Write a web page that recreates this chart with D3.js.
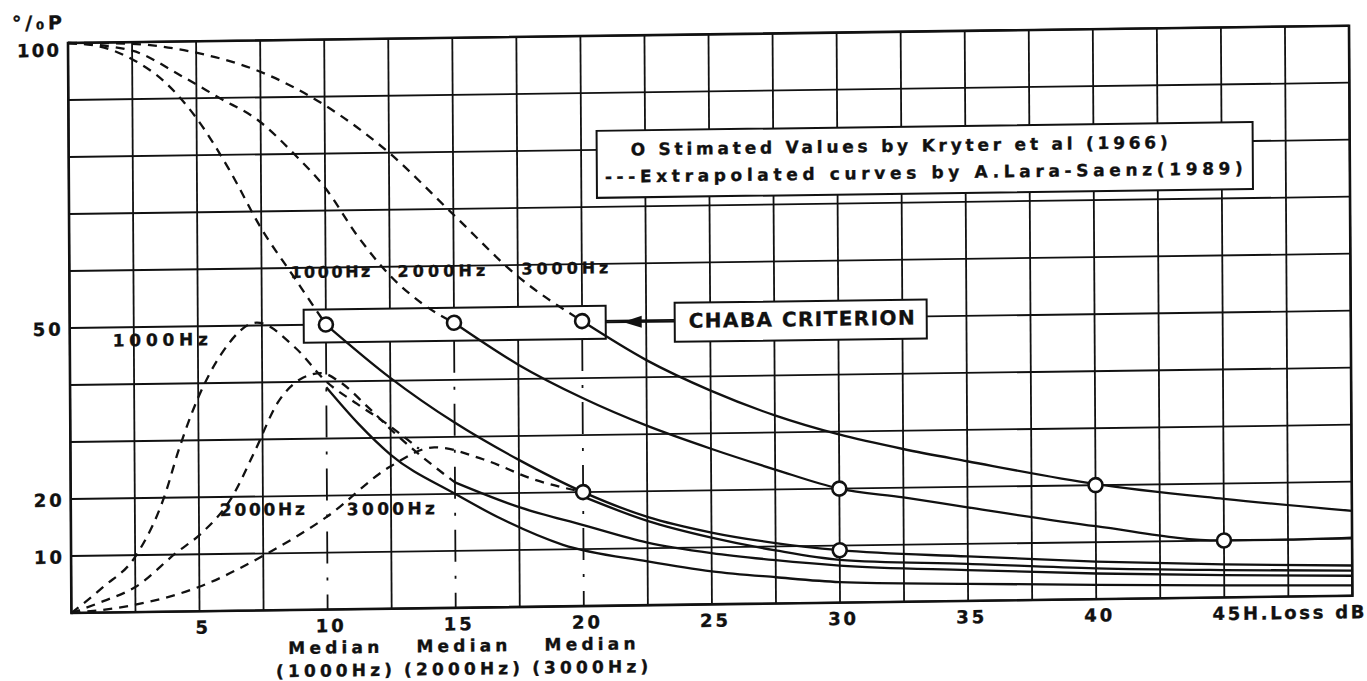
<!DOCTYPE html>
<html>
<head>
<meta charset="utf-8">
<script src="https://cdn.jsdelivr.net/npm/d3@7/dist/d3.min.js"></script>
<style>
  body { margin: 0; background: #fff; }
  text { font-family: "DejaVu Sans", "Liberation Sans", sans-serif; font-weight: bold; fill: #111; stroke: #111; stroke-width: 0.35; }
</style>
</head>
<body>
<svg id="chart" width="1367" height="681"></svg>
<script>
// ---- axis ticks and labels ----
const xGridValues = [0, 2.5, 5, 7.5, 10, 12.5, 15, 17.5, 20, 22.5, 25, 27.5, 30, 32.5, 35, 37.5, 40, 42.5, 45, 47.5, 50];
const yGridValues = [0, 10, 20, 30, 40, 50, 60, 70, 80, 90, 100];
const xTickValues = [5, 10, 15, 20, 25, 30, 35, 40];
const lastTickValue = 45;
const lastTickLabel = "45H.Loss dB";
const yTickValues = [100, 50, 20, 10];
const medianAt = [10, 15, 20];
const medianFreq = ["(1000Hz)", "(2000Hz)", "(3000Hz)"];

// ---- Kryter et al (1966) estimated values ----
const kryterPoints = [[10, 50], [15, 50], [20, 50], [20, 20], [30, 20], [30, 9.2], [40, 20], [45, 10]];

// solid curves through the estimated values
const kryter1000 = [[10, 50], [12.5, 40.5], [15, 32.5], [17.5, 25.8], [20, 20], [22.5, 15.5], [25, 12.6], [27.5, 10.6], [30, 9.2], [35, 7.8], [40, 6.6], [45, 5.8], [50, 5.3]];
const kryter2000 = [[15, 50], [17.5, 42.5], [20, 36.5], [22.5, 31.5], [25, 27.3], [27.5, 23.5], [30, 20], [32.5, 18.3], [35, 16.4], [40, 12.8], [45, 10], [47.5, 10], [50, 10.2]];
const kryter3000 = [[20, 50], [22.5, 43], [25, 37.5], [27.5, 33], [30, 29.5], [32.5, 26.8], [35, 24.5], [40, 20.2], [45, 17.3], [50, 14.9]];

// lower solid tails
const tail1000 = [[10, 39], [11.25, 32.5], [12.5, 27], [15, 20], [16.8, 15.5], [19.2, 10.8], [22.5, 7.7], [25, 5.8], [27.5, 4.6], [30, 3.6], [35, 3.0], [40, 2.5], [45, 2.1], [50, 1.8]];
const tail2000 = [[15, 22], [17.5, 17.5], [20, 14.2], [22.5, 11], [25, 9], [27.5, 7.6], [30, 6.5], [35, 5.4], [40, 4.5], [45, 3.9], [50, 3.5]];
const tail3000 = [[20, 19.2], [22.5, 14.8], [25, 11.7], [27.5, 9.3], [30, 7.5], [35, 6.5], [40, 5.4], [45, 4.8], [50, 4.4]];

// ---- Lara-Saenz (1989) extrapolated curves ----
const extrap1000 = [[0, 100], [1.25, 99.3], [2.5, 97], [3.75, 93], [5, 86.5], [6.25, 77.5], [7.5, 67], [8.75, 58.5], [10, 50]];
const extrap2000 = [[0, 100], [2.5, 98.5], [4.4, 94], [5.9, 90], [7.4, 86], [8.8, 80], [10, 74], [11.25, 65.5], [12.5, 58.5], [13.75, 53.5], [15, 50]];
const extrap3000 = [[0, 100], [2.5, 99.7], [5, 98], [7.5, 94.5], [10, 88.5], [12.5, 80], [15, 69], [17.5, 58], [20, 50]];

const peak1000 = [[0, 0], [1.25, 4.5], [2.5, 9.7], [3.7, 20.8], [4.2, 28], [5, 37.5], [5.9, 45], [7.3, 50.5], [8.8, 46], [10, 40], [11.2, 36], [12.3, 32.6], [13.6, 28]];
const peak2000 = [[0, 0], [1.25, 2], [2.5, 4.4], [4.1, 10.3], [5.1, 13.7], [6.3, 20], [7.2, 28], [8.1, 36.4], [9, 40.5], [9.8, 41.5], [10.5, 40], [11.6, 35.5], [12.8, 30.2], [15, 22]];
const peak3000 = [[0, 0], [2.5, 1.3], [5, 4.3], [7.5, 9.6], [10, 16.3], [12.5, 25], [14.2, 28.2], [16.1, 26], [18.1, 22.3], [20, 20]];

// ---- drawing ----
const svg = d3.select("#chart");
const INK = "#111";

const x = d3.scaleLinear().domain([0, 50]).range([68, 1349]);
const y = d3.scaleLinear().domain([0, 100]).range([613, 43]);

// the printed sheet sits slightly askew
const skewX = 0.006, skewY = -0.0135;
const g = svg.append("g")
  .attr("transform", `matrix(1, ${skewY}, ${skewX}, 1, ${-43 * skewX}, ${-68 * skewY})`);

const chabaBox = { x0: 302, x1: 604, y0: 313, y1: 346 };

// grid
const grid = g.append("g").attr("stroke", INK).attr("stroke-width", 1.8).attr("fill", "none");
xGridValues.forEach(v => {
  const isMedian = medianAt.includes(v);
  grid.append("line")
    .attr("x1", x(v)).attr("x2", x(v))
    .attr("y1", y(100)).attr("y2", isMedian ? chabaBox.y0 : y(0));
});
yGridValues.forEach(v => {
  grid.append("line").attr("x1", x(0)).attr("x2", x(50)).attr("y1", y(v)).attr("y2", y(v));
});
// median verticals, dash-dot
medianAt.forEach(v => {
  grid.append("line")
    .attr("x1", x(v)).attr("x2", x(v))
    .attr("y1", chabaBox.y1).attr("y2", y(0))
    .attr("stroke-dasharray", "32,14,3,14");
});
// frame
g.append("rect")
  .attr("x", x(0)).attr("y", y(100))
  .attr("width", x(50) - x(0)).attr("height", y(0) - y(100))
  .attr("fill", "none").attr("stroke", INK).attr("stroke-width", 2.6);

// boxes
function box(x0, y0, x1, y1) {
  g.append("rect").attr("x", x0).attr("y", y0).attr("width", x1 - x0).attr("height", y1 - y0)
    .attr("fill", "#fff").attr("stroke", INK).attr("stroke-width", 2);
}
box(596, 138, 1252, 205);                                   // legend
box(chabaBox.x0, chabaBox.y0, chabaBox.x1, chabaBox.y1);    // 50 % points
box(673, 311, 925, 350);                                    // criterion

// arrow pointing at the 50 % box
g.append("line").attr("x1", chabaBox.x1).attr("x2", 673).attr("y1", 329.5).attr("y2", 329.5)
  .attr("stroke", INK).attr("stroke-width", 2.2);
g.append("path").attr("d", "M621,329.5 L640,323.5 L640,335.5 Z").attr("fill", INK);

// curves
const line = d3.line().x(d => x(d[0])).y(d => y(d[1])).curve(d3.curveMonotoneX);
const curves = g.append("g").attr("fill", "none").attr("stroke", INK).attr("stroke-width", 2.3);

[extrap1000, extrap2000, extrap3000, peak1000, peak2000, peak3000].forEach(s => {
  curves.append("path").attr("d", line(s)).attr("stroke-dasharray", "9,7");
});
[kryter1000, kryter2000, kryter3000, tail1000, tail2000, tail3000].forEach(s => {
  curves.append("path").attr("d", line(s));
});

// estimated points
g.append("g").selectAll("circle").data(kryterPoints).join("circle")
  .attr("cx", d => x(d[0])).attr("cy", d => y(d[1])).attr("r", 7)
  .attr("fill", "#fff").attr("stroke", INK).attr("stroke-width", 2.6);

// text
function label(X, Y, str, size, width, anchor) {
  const t = g.append("text")
    .attr("x", X).attr("y", Y)
    .attr("font-size", size)
    .attr("text-anchor", anchor || "start")
    .attr("dominant-baseline", "central")
    .text(str);
  if (width) t.attr("textLength", width).attr("lengthAdjust", "spacing");
  return t;
}

label(12, 22, "°/₀P", 19, 50);

yTickValues.forEach(v => {
  label(59, y(v) + (v === 100 ? 7 : 1), String(v), 18, v === 100 ? 42 : 28, "end");
});

xTickValues.forEach(v => {
  label(x(v) + 2, 629, String(v), 18, v < 10 ? 12 : 28, "middle");
});
label(x(lastTickValue) - 12, 629, lastTickLabel, 18, 152);

medianAt.forEach((v, i) => {
  label(x(v) + 6, 651, "Median", 17, 91, "middle");
  label(x(v) + 6, 674, medianFreq[i], 17, 116, "middle");
});

label(630, 157, "O Stimated Values  by Kryter et al (1966)", 17, 537);
label(604, 184, "---Extrapolated curves by A.Lara-Saenz(1989)", 17, 638);
label(800, 329, "CHABA CRITERION", 20, 226, "middle");

label(289, 275.5, "1000Hz", 16, 80);
label(396, 276, "2000Hz", 16, 88);
label(520, 275, "3000Hz", 16, 87);
label(111, 341, "1000Hz", 17, 95);
label(217, 512, "2000Hz", 17, 85);
label(344, 513, "3000Hz", 17, 88);
</script>
</body>
</html>
